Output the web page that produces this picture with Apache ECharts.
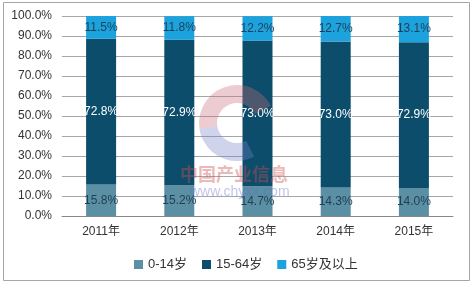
<!DOCTYPE html>
<html><head><meta charset="utf-8">
<script src="https://cdn.jsdelivr.net/npm/echarts@6/dist/echarts.min.js"></script>
<style>html,body{margin:0;padding:0;background:#fff}#c{width:474px;height:285px}</style>
</head><body><div id="c"></div>
<script>
const categories = ['2011年','2012年','2013年','2014年','2015年'];
const age0_14 = [15.8,15.2,14.7,14.3,14.0];
const age15_64 = [72.8,72.9,73.0,73.0,72.9];
const age65plus = [11.5,11.8,12.2,12.7,13.1];
const seriesNames = ['0-14岁','15-64岁','65岁及以上'];

const font = 'Liberation Sans, Arial, "Noto Sans CJK SC", sans-serif';
const chart = echarts.init(document.getElementById('c'));
function mk(name, data, color, labelColor){
  return {
    name, type:'bar', stack:'a', data, barWidth:30,
    itemStyle:{color},
    label:{show:true, position:'inside', color:labelColor, fontSize:12, fontFamily:font,
      formatter: p => p.value.toFixed(1)+'%'}
  };
}
chart.setOption({
  animation:false,
  textStyle:{fontFamily:font},
  graphic:[
    {type:'rect', shape:{x:3.5,y:2.5,width:466,height:278}, style:{fill:'none',stroke:'#a6a6a6',lineWidth:1}, z:-1},
    {type:'sector', shape:{cx:237,cy:123,r:38,r0:20,startAngle:-Math.PI*1.05,endAngle:-Math.PI*0.15}, style:{fill:'rgba(200,110,120,0.35)'}, z:100},
    {type:'sector', shape:{cx:237,cy:123,r:38,r0:20,startAngle:Math.PI*0.35,endAngle:Math.PI*0.95}, style:{fill:'rgba(120,130,200,0.35)'}, z:100},
    {type:'text', left:180, top:165, style:{text:'中国产业信息', fill:'rgba(205,80,80,0.4)', font:'bold 18px "Noto Sans CJK SC"'}, z:100},
    {type:'text', left:190, top:185, style:{text:'www.chyxx.com', fill:'rgba(100,110,200,0.4)', font:'14px "Liberation Sans"'}, z:100}
  ],
  grid:{left:62, right:21, top:16, bottom:69},
  legend:{
    data:seriesNames, left:129, top:253, itemWidth:9, itemHeight:9, itemGap:15,
    icon:'rect', textStyle:{fontSize:13, color:'#333', fontFamily:font}
  },
  xAxis:{
    type:'category', data:categories,
    axisLine:{lineStyle:{color:'#888'}}, axisTick:{show:false},
    axisLabel:{color:'#333', fontSize:12, margin:10}
  },
  yAxis:{
    type:'value', min:0, max:100, interval:10,
    axisLine:{show:false}, axisTick:{show:false},
    splitLine:{lineStyle:{color:'#a6a6a6'}},
    axisLabel:{color:'#333', fontSize:12, margin:10, formatter:v=>v.toFixed(1)+'%'}
  },
  series:[
    mk(seriesNames[0], age0_14, '#5b8fa4', '#1e3f55'),
    mk(seriesNames[1], age15_64, '#0b4d6b', '#ffffff'),
    mk(seriesNames[2], age65plus, '#1ca2dd', '#1e3f55')
  ]
});
</script></body></html>
